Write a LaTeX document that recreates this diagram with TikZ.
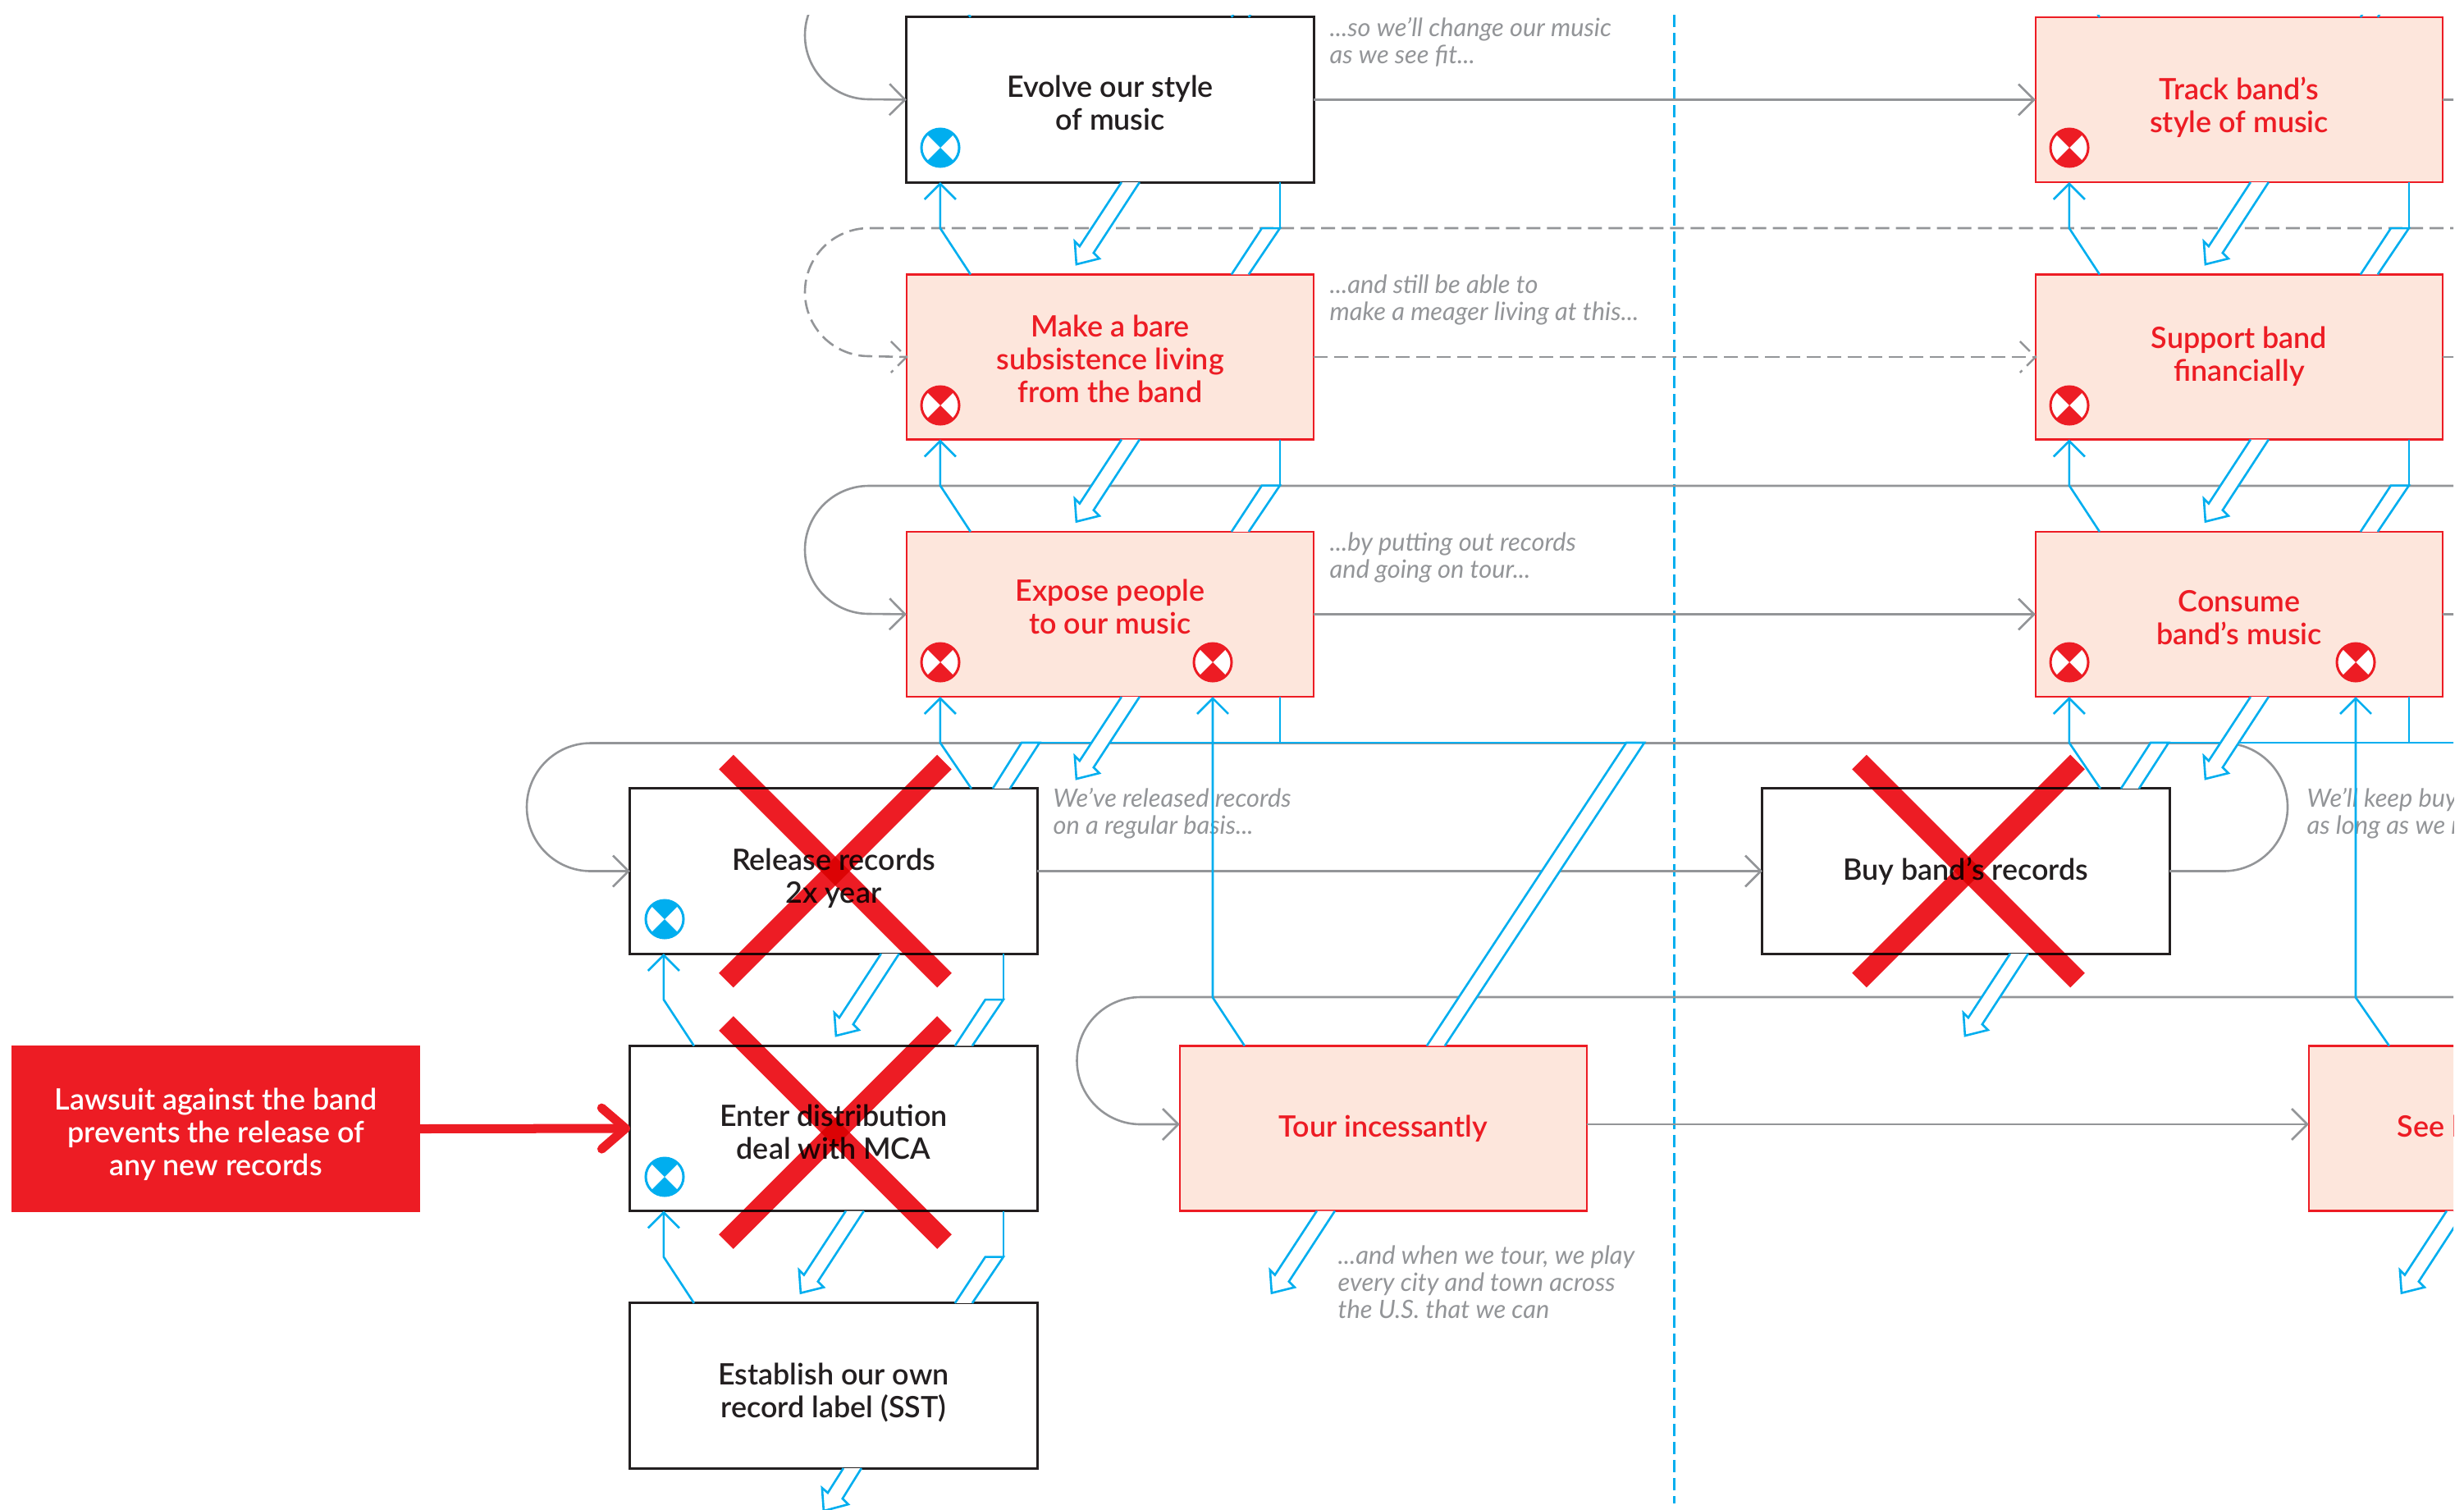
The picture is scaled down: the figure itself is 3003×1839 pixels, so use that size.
\documentclass[tikz,border=0pt]{standalone}
\usepackage{fontspec}
\setmainfont{Lato}
\newfontfamily\labelfamily{Lato Semibold}
\usetikzlibrary{arrows.meta,calc}
\definecolor{inkblack}{HTML}{231F20}
\definecolor{bandred}{HTML}{ED1C24}
\definecolor{blush}{HTML}{FDE6DC}
\definecolor{linkgrey}{HTML}{939598}
\definecolor{linkblue}{HTML}{00AEEF}
\tikzset{
  openvee/.tip={Straight Barb[length=0.19cm,width=0.38cm]},
  bandbox/.style={rectangle, draw=inkblack, fill=white, text=inkblack, line width=0.03cm, minimum width=4.96cm, minimum height=2.01cm, align=center, outer sep=0pt, font=\labelfamily\fontsize{10.2}{11.4}\selectfont},
  redbox/.style={bandbox, draw=bandred, fill=blush, text=bandred, line width=0.026cm},
  hourglass/.style={circle, draw=#1, fill=white, line width=0.03cm, minimum size=0.46cm, inner sep=0pt, path picture={
    \fill[#1] (path picture bounding box.center) -- ++(0.3cm,0.3cm) -- ++(-0.6cm,0cm) -- cycle;
    \fill[#1] (path picture bounding box.center) -- ++(0.3cm,-0.3cm) -- ++(-0.6cm,0cm) -- cycle;}},
  notetext/.style={anchor=west, align=left, inner sep=0pt, text=linkgrey, font=\itshape\fontsize{8.75}{9.4}\selectfont},
  greylink/.style={draw=linkgrey, line width=0.026cm},
  greydash/.style={greylink, dash pattern=on 0.17cm off 0.08cm},
  bluelink/.style={draw=linkblue, line width=0.026cm},
  bluefill/.style={bluelink, fill=white},
  crossbar/.style={draw=bandred, line width=0.25cm}
}
\newcommand{\hollowdown}[2]{\draw[bluefill] ($(#1.south west)+(#2,0)$) -- ++(-51,78) -- ++(-6,-6) -- ++(2,28) -- ++(28,-7) -- ++(-7,-7) -- ($(#1.south west)+(#2+22,0)$);}
\newcommand{\bentlink}[2]{\draw[bluefill] ($(#1.north west)+(396,0)$) -- ($(#2.south west)+(433,56)$) -- ($(#2.south west)+(455,56)$) -- ($(#1.north west)+(417,0)$);
  \draw[bluelink] ($(#2.south west)+(455,0)$) -- ($(#2.south west)+(455,56)$);}
\newcommand{\riselink}[2]{\draw[bluelink,-{openvee}] ($(#1.north west)+(78,0)$) -- ($(#2.south west)+(41,56)$) -- ($(#2.south west)+(41,0)$);}
\begin{document}
\begin{tikzpicture}[x=0.01cm,y=-0.01cm]
\useasboundingbox (0,0) rectangle (3003,1839);
\clip (0,18) rectangle (2990,1839);

\draw[linkblue, line width=0.026cm, dash pattern=on 0.15cm off 0.07cm] (2040.5,18) -- (2040.5,1832);

\node [bandbox] (evolve) at (1353,121.5) {Evolve our style\\of music\\[-0.48cm]\mbox{}};
\node [redbox] (make) at (1353,435) {Make a bare\\subsistence living\\from the band\\[-0.44cm]\mbox{}};
\node [redbox] (expose) at (1353,748.5) {Expose people\\to our music\\[-0.21cm]\mbox{}};
\node [bandbox] (release) at (1016,1061.5) {Release records\\2x year\\[-0.52cm]\mbox{}};
\node [bandbox] (enter) at (1016,1375) {Enter distribution\\deal with MCA\\[-0.48cm]\mbox{}};
\node [bandbox] (establish) at (1016,1688.5) {Establish our own\\record label (SST)\\[-0.52cm]\mbox{}};
\node [redbox] (tour) at (1686,1375) {Tour incessantly};
\node [redbox] (track) at (2729,121.5) {Track band’s\\style of music\\[-0.52cm]\mbox{}};
\node [redbox] (support) at (2729,435) {Support band\\financially\\[-0.32cm]\mbox{}};
\node [redbox] (consume) at (2729,748.5) {Consume\\band’s music\\[-0.48cm]\mbox{}};
\node [bandbox] (buy) at (2396,1061.5) {Buy band’s records};
\node [redbox] (see) at (3062,1375) {};
\node [anchor=west, inner sep=0pt, text=bandred, font=\labelfamily\fontsize{10.2}{11.4}\selectfont] (seelabel) at (2921,1372) {See b};
\node [rectangle, fill=bandred, text=white, minimum width=4.98cm, minimum height=2.03cm, align=center, outer sep=0pt, font=\labelfamily\fontsize{10.2}{11.4}\selectfont] (lawsuit) at (263,1375.5) {Lawsuit against the band\\prevents the release of\\any new records\\[-0.48cm]\mbox{}};

\node [hourglass=linkblue] (evolvemark) at (1146,180) {};
\node [hourglass=bandred] (makemark) at (1146,494) {};
\node [hourglass=bandred] (exposemark) at (1146,807) {};
\node [hourglass=bandred] (exposetour) at (1478,807) {};
\node [hourglass=linkblue] (releasemark) at (810,1120) {};
\node [hourglass=linkblue] (entermark) at (810,1434) {};
\node [hourglass=bandred] (trackmark) at (2522,180) {};
\node [hourglass=bandred] (supportmark) at (2522,494) {};
\node [hourglass=bandred] (consumemark) at (2522,807) {};
\node [hourglass=bandred] (consumesee) at (2871,807) {};

\node [notetext] (note1) at (1620,51) {...so we’ll change our music\\as we see fit...};
\node [notetext] (note2) at (1620,365) {...and still be able to\\make a meager living at this...};
\node [notetext] (note3) at (1620,679) {...by putting out records\\and going on tour...};
\node [notetext] (note4) at (1283,991) {We’ve released records\\on a regular basis...};
\node [notetext] (note5) at (2811,991) {We’ll keep buy\\as long as we r};
\node [notetext] (note6) at (1630,1562) {...and when we tour, we play\\every city and town across\\the U.S. that we can};

\coordinate (evolveback) at (1059,-35);
\coordinate (makeback) at (3003,278);
\coordinate (exposeback) at (3003,592);
\coordinate (tourback) at (3003,1215);
\coordinate (trackout) at (3003,121.5);
\coordinate (supportout) at (3003,435);
\coordinate (consumeout) at (3003,748.5);
\coordinate (busleft) at (1245,905);
\coordinate (busmid) at (2004,905);
\coordinate (busright) at (2621,905);
\coordinate (busend) at (3003,905);

\draw [greylink,-{openvee}] (evolveback) arc[start angle=270, end angle=90, radius=78] -- (evolve.west);
\draw [greydash] (makeback) -- (1059,278) arc[start angle=270, end angle=90, radius=78] -- (make.west);
\draw [greydash] ($(make.west)+(-19,-19)$) -- (make.west) -- ++(-19,19);
\draw [greylink,-{openvee}] (exposeback) -- (1059,592) arc[start angle=270, end angle=90, radius=78] -- (expose.west);
\draw [greylink,-{openvee}] (buy.east) -- (2710,1061.5) arc[start angle=90, end angle=-90, radius=78] -- (720,905.5) arc[start angle=270, end angle=90, radius=78] -- (release.west);
\draw [greylink,-{openvee}] (tourback) -- (1390,1215) arc[start angle=270, end angle=90, radius=77.5] -- ($(tour.west)+(0,-5)$);
\draw [greylink,-{openvee}] (evolve.east) -- (track.west);
\draw [greydash] (make.east) -- (support.west);
\draw [greydash] ($(support.west)+(-19,-19)$) -- (support.west) -- ++(-19,19);
\draw [greylink,-{openvee}] (expose.east) -- (consume.west);
\draw [greylink,-{openvee}] (release.east) -- (buy.west);
\draw [greylink,-{openvee}] ($(tour.east)+(0,-5)$) -- ($(see.west)+(0,-5)$);
\draw [greylink] (track.east) -- (trackout);
\draw [greydash] (support.east) -- (supportout);
\draw [greylink] (consume.east) -- (consumeout);

\draw [bluelink] (busleft) -- (busmid);
\draw [bluelink] (busright) -- (busend);
\draw [bluefill] ($(tour.north west)+(301,0)$) -- (1982,905) -- (busmid) -- ($(tour.north west)+(323,0)$);
\draw [bluefill] ($(release.north west)+(442,0)$) -- (busleft) -- (1267,905) -- ($(release.north west)+(463,0)$);
\draw [bluefill] ($(buy.north west)+(437,0)$) -- (busright) -- (2643,905) -- ($(buy.north west)+(459,0)$);
\draw [bluelink] ($(expose.south west)+(455,0)$) -- ($(expose.south west)+(455,56)$);
\draw [bluelink] ($(consume.south west)+(455,0)$) -- ($(consume.south west)+(455,56)$);

\bentlink{make}{evolve}
\bentlink{expose}{make}
\bentlink{support}{track}
\bentlink{consume}{support}
\bentlink{enter}{release}
\bentlink{establish}{enter}
\riselink{make}{evolve}
\riselink{expose}{make}
\riselink{support}{track}
\riselink{consume}{support}
\riselink{enter}{release}
\riselink{establish}{enter}
\draw [bluelink,-{openvee}] ($(release.north west)+(416,0)$) -- ($(expose.south west)+(41,56)$) -- ($(expose.south west)+(41,0)$);
\draw [bluelink,-{openvee}] ($(buy.north west)+(412,0)$) -- ($(consume.south west)+(41,56)$) -- ($(consume.south west)+(41,0)$);
\draw [bluelink,-{openvee}] ($(tour.north west)+(79,0)$) -- ($(exposetour.south)+(0,384)$) -- (exposetour.south |- expose.south);
\draw [bluelink,-{openvee}] ($(see.north west)+(98,0)$) -- ($(consumesee.south)+(0,384)$) -- (consumesee.south |- consume.south);
\draw [bluelink] ($(evolve.north west)+(78,0)$) -- ++(-38,-56);
\draw [bluelink] ($(evolve.north west)+(396,0)$) -- ++(37,-56);
\draw [bluelink] ($(evolve.north west)+(417,0)$) -- ++(38,-56);
\draw [bluelink] ($(track.north west)+(78,0)$) -- ++(-38,-56);
\draw [bluelink] ($(track.north west)+(396,0)$) -- ++(37,-56);
\draw [bluelink] ($(track.north west)+(417,0)$) -- ++(38,-56);

\hollowdown{evolve}{262}
\hollowdown{make}{262}
\hollowdown{expose}{262}
\hollowdown{track}{262}
\hollowdown{support}{262}
\hollowdown{consume}{262}
\hollowdown{release}{306}
\hollowdown{enter}{263}
\hollowdown{buy}{302}
\hollowdown{tour}{167}
\hollowdown{see}{168}
\draw [bluefill] ($(establish.south west)+(260,0)$) -- ++(-19,30) -- ++(-7,-6) -- ++(2,28) -- ++(30,-8) -- ++(-7,-7) -- ($(establish.south west)+(282,0)$);

\draw [draw=bandred, line width=0.11cm, line cap=round, -{Straight Barb[length=0.29cm,width=0.5cm,round]}] (lawsuit.east) -- (enter.west);

\begin{scope}[blend mode=multiply]
\draw [crossbar] ($(release.center)+(-131,-133)$) -- ($(release.center)+(135,133)$);
\draw [crossbar] ($(release.center)+(135,-133)$) -- ($(release.center)+(-131,133)$);
\draw [crossbar] ($(enter.center)+(-131,-128)$) -- ($(enter.center)+(135,138)$);
\draw [crossbar] ($(enter.center)+(135,-128)$) -- ($(enter.center)+(-131,138)$);
\draw [crossbar] ($(buy.center)+(-130,-133)$) -- ($(buy.center)+(136,133)$);
\draw [crossbar] ($(buy.center)+(136,-133)$) -- ($(buy.center)+(-130,133)$);
\end{scope}
\end{tikzpicture}
\end{document}
